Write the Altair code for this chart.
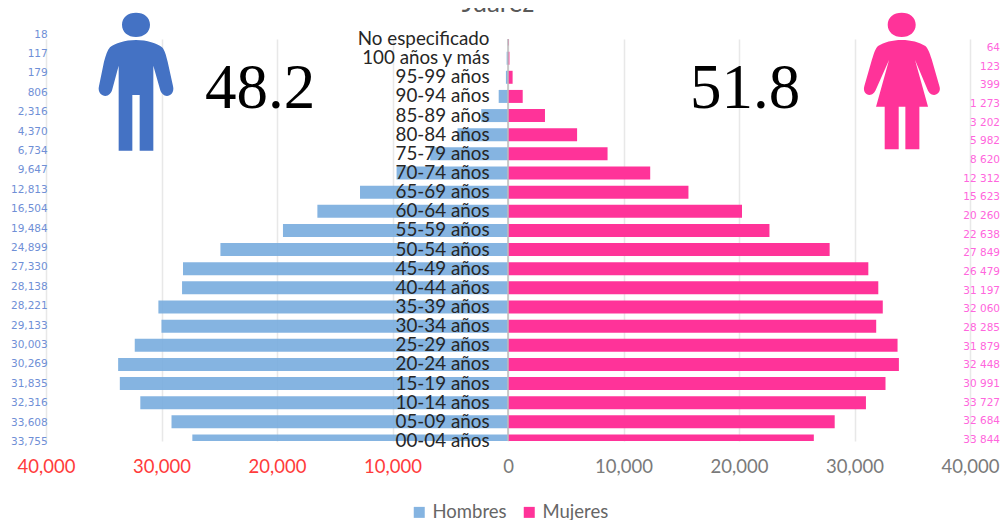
import re
import altair as alt
import pandas as pd

grupos = ["No especificado", "100 años y más", "95-99 años", "90-94 años", "85-89 años", "80-84 años",
          "75-79 años", "70-74 años", "65-69 años", "60-64 años", "55-59 años", "50-54 años",
          "45-49 años", "40-44 años", "35-39 años", "30-34 años", "25-29 años", "20-24 años",
          "15-19 años", "10-14 años", "05-09 años", "00-04 años"]
hombres = [18, 117, 179, 806, 2316, 4370, 6734, 9647, 12813, 16504, 19484, 24899,
           28138, 28221, 30269, 30003, 32316, 33755, 33608, 31835, 29133, 27330]
mujeres = [64, 123, 399, 1273, 3202, 5982, 8620, 12312, 15623, 20260, 22638, 27849,
           31197, 32060, 32448, 31879, 33727, 33844, 32684, 30991, 28285, 26479]
etiquetas_h = ["18", "117", "179", "806", "2,316", "4,370", "6,734", "9,647", "12,813", "16,504", "19,484",
               "24,899", "27,330", "28,138", "28,221", "29,133", "30,003", "30,269", "31,835", "32,316",
               "33,608", "33,755"]
etiquetas_m = ["64", "123", "399", "1 273", "3 202", "5 982", "8 620", "12 312", "15 623", "20 260", "22 638",
               "27 849", "26 479", "31 197", "32 060", "28 285", "31 879", "32 448", "30 991", "33 727",
               "32 684", "33 844"]

AZUL = "rgba(120,172,222,0.9)"
ROSA = "#FF3399"
W, H = 924, 402


def icono(d, cx, cy, half):
    """Rescale an outline drawn in picture units to the unit square of a custom symbol."""
    res, k = [], 0
    for tok in re.findall(r"[A-Za-z]|-?\d+\.?\d*", d):
        if tok.isalpha():
            res.append(tok)
        else:
            v = float(tok)
            res.append(f"{(v - (cx if k % 2 == 0 else cy)) / half:.4f}")
            k += 1
    return " ".join(res)


hombre_d = ("M366 74 C366 52 384 38 408 38 C432 38 450 52 450 74 C450 96 432 111 408 111 C384 111 366 96 366 74 Z "
            "M408 120 C375 120 345 130 330 142 C322 150 318 165 312 185 L297 258 C292 278 306 288 316 288 "
            "C326 288 334 280 337 268 L356 197 L356 452 L397 452 L397 285 L419 285 L419 452 L460 452 L460 197 "
            "L480 268 C483 280 491 288 501 288 C511 288 524 278 519 258 L503 185 C498 165 494 150 486 142 "
            "C471 130 441 120 408 120 Z")
mujer_d = ("M1151 74 C1151 52 1169 38 1193 38 C1217 38 1235 52 1235 74 C1235 96 1217 111 1193 111 C1169 111 1151 96 1151 74 Z "
           "M1193 120 C1165 120 1140 127 1122 138 C1114 145 1110 160 1104 178 L1081 258 C1076 274 1086 285 1096 285 "
           "C1106 285 1112 278 1116 268 L1155 180 L1116 320 L1142 320 L1142 448 L1184 448 L1184 320 L1204 320 "
           "L1204 448 L1246 448 L1246 320 L1272 320 L1233 180 L1270 268 C1274 278 1280 285 1290 285 "
           "C1300 285 1312 274 1306 258 L1283 178 C1277 160 1272 145 1264 138 C1246 127 1221 120 1193 120 Z")

barras = pd.DataFrame(
    [{"grupo": g, "valor": -v, "Sexo": "Hombres"} for g, v in zip(grupos, hombres)]
    + [{"grupo": g, "valor": v, "Sexo": "Mujeres"} for g, v in zip(grupos, mujeres)]
)
tabla = pd.DataFrame({"grupo": grupos, "h": etiquetas_h, "m": etiquetas_m})
uno = pd.DataFrame({"a": [0]})

xscale = alt.Scale(domain=[-40000, 40000], nice=False, zero=False)


def yscale(rango=None):
    if rango is None:
        return alt.Scale(type="point", padding=0, domain=grupos)
    return alt.Scale(type="point", padding=0, domain=grupos, range=rango)


bars = alt.Chart(barras).mark_bar(size=13, clip=True).encode(
    x=alt.X("valor:Q", scale=xscale, axis=alt.Axis(
        values=[-40000, -30000, -20000, -10000, 0, 10000, 20000, 30000, 40000],
        title=None, domain=False, ticks=False, grid=True, gridColor="#E8E8E8", gridWidth=1.5,
        labelFont="Lato", labelFontSize=18.5, labelPadding=16, labelFlush=False, labelOverlap=False,
        labelBound=False,
        labelColor={"expr": "datum.value < 0 ? '#FF3B3B' : '#7A7A7A'"},
        labelExpr="format(abs(datum.value), ',')")),
    y=alt.Y("grupo:N", scale=yscale(), axis=None),
    color=alt.Color("Sexo:N", scale=alt.Scale(domain=["Hombres", "Mujeres"], range=[AZUL, ROSA]),
                    legend=alt.Legend(title=None, orient="none", legendX=364, legendY=464, direction="horizontal",
                                      symbolType="square", symbolSize=121, labelFont="Lato", labelFontSize=18.5,
                                      labelColor="#666666", columnPadding=13, symbolOffset=0)),
)

cero = alt.Chart(uno).mark_rule(color="#BDBDBD", strokeWidth=1.5).encode(x=alt.X(datum=0, scale=xscale))

cats = alt.Chart(tabla).mark_text(align="right", baseline="middle", font="Lato", fontSize=18.8, color="#262626").encode(
    x=alt.X(datum=-1600, scale=xscale),
    y=alt.Y("grupo:N", scale=yscale(), axis=None),
    text="grupo:N",
)

izq = alt.Chart(tabla).mark_text(align="right", baseline="middle", font="DejaVu Sans", fontSize=10.5, color="#6F8FD6").encode(
    x=alt.X(datum=-39850, scale=xscale),
    y=alt.Y("grupo:N", scale=yscale([-4.5, 403]), axis=None),
    text="h:N",
)

der = alt.Chart(tabla).mark_text(align="right", baseline="middle", font="DejaVu Sans", fontSize=10.5, color="#FF66DD").encode(
    x=alt.X(datum=42600, scale=xscale),
    y=alt.Y("grupo:N", scale=yscale([9, 401]), axis=None),
    text="m:N",
)


def icon(path, color, px, py):
    return alt.Chart(uno).mark_point(shape=path, size=138 ** 2, filled=True, color=color, opacity=1, strokeWidth=0).encode(
        x=alt.value(px), y=alt.value(py))


man = icon(icono(hombre_d, 408, 245, 207), "#4472C4", 90, 42.7)
woman = icon(icono(mujer_d, 1193, 243, 207), ROSA, 855.7, 42)


def texto(s, px, py, size, font, color):
    return alt.Chart(uno).mark_text(text=s, align="center", baseline="alphabetic", font=font, fontSize=size, color=color).encode(
        x=alt.value(px), y=alt.value(py))


t48 = texto("48.2", 214, 69, 63, "Liberation Serif", "#000000")
t51 = texto("51.8", 699, 69, 63, "Liberation Serif", "#000000")
titulo = texto("Juárez", 452, -27.5, 26, "Lato", "#595959")

chart = alt.layer(bars, cero, cats, izq, der, man, woman, t48, t51, titulo).resolve_scale(y="independent").properties(
    width=W, height=H, padding={"left": 38, "top": 31, "right": 30, "bottom": 81},
    autosize=alt.AutoSizeParams(type="none"),
).configure_view(stroke=None)

chart.save("out.html", embed_options={"renderer": "svg", "actions": False})
